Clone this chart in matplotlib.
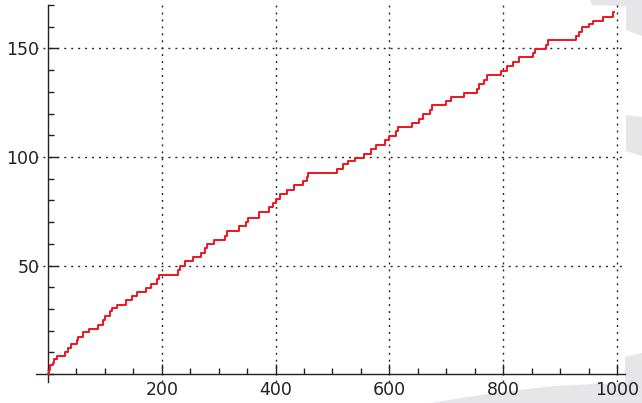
import numpy as np
import matplotlib
matplotlib.use("Agg")
import matplotlib.pyplot as plt
from matplotlib.patches import Polygon
from matplotlib.ticker import MultipleLocator, FixedLocator

# Step function: x where each new level starts, and the level reached there
jump_x = [0, 2, 4, 8, 11, 16, 29.6, 35.5, 40.2, 50.2, 53.1, 61.9, 72.4, 88.2, 96.4, 99.9,
          108.7, 113.4, 121, 136.8, 148.5, 156.2, 172, 180.8, 192.5, 195.4,
          228.7, 232.2, 240.4, 255.6, 268.6, 276.1, 279.1, 292, 311.3, 314.2,
          336.4, 348.1, 352.2, 371.5, 388.5, 396.1, 400.8, 407.9, 419.6, 432.5,
          447.7, 454.8, 457.6, 507.5, 519.1, 527.9, 539.6, 555.4, 567.2, 576.5,
          592.3, 599.9, 611.6, 615.7, 639.2, 652, 659.6, 671.4, 674.3, 699.5,
          707.7, 731.1, 754.4, 758, 766, 770.9, 795.5, 806.1, 817.7, 828.3,
          851.8, 855.8, 875.1, 879.2, 927.8, 933.6, 937.8, 951.2, 958.2, 975.8,
          993.3]
levels = [0, 2, 4, 5, 7, 8.2, 10, 12, 14, 15.6, 17.1, 19.2, 20.9, 22.8, 24.8, 26.9,
          28.9, 30.5, 32, 34, 35.8, 37.8, 39.7, 41.7, 43.8, 45.9,
          47.8, 50, 51.9, 54, 55.8, 58.1, 59.9, 61.9, 63.8, 66.1,
          68.1, 69.9, 71.9, 74.7, 77, 78.8, 80.8, 82.9, 84.8, 86.9,
          88.8, 90.8, 92.6, 94.6, 96.6, 98, 99.5, 101.5, 103.7, 105.7,
          107.7, 109.5, 111.8, 113.6, 115.6, 117.6, 119.8, 121.8, 123.8, 125.6,
          127.6, 129.5, 131.4, 133.6, 135.6, 137.6, 139.4, 141.7, 143.7, 145.9,
          147.9, 149.9, 151.7, 153.7, 155.5, 157.5, 159.7, 161.4, 162.8, 164.5,
          166.8]
x_end = 995
x_ticks = [200, 400, 600, 800, 1000]
y_ticks = [50, 100, 150]

W, H = 642, 403
fig = plt.figure(figsize=(W / 100, H / 100), dpi=100)

# light grey background watermark shapes (pixel coords, y from top)
gray = "#e6e6e8"
shapes = [
    [(590, 0), (642, 0), (642, 36), (626, 30), (626, 6), (592, 5)],
    [(626, 115), (642, 117), (642, 156), (626, 151)],
    [(430, 403), (487, 394), (553, 386), (617, 383), (625, 383), (625, 357), (642, 353), (642, 403)],
]
for pts in shapes:
    poly = Polygon([(px / W, 1 - py / H) for px, py in pts], closed=True,
                   transform=fig.transFigure, facecolor=gray, edgecolor="none", zorder=0)
    fig.patches.append(poly)

left_px, right_px, top_px, bottom_px = 36, 625, 5, 382
ax = fig.add_axes([left_px / W, 1 - bottom_px / H, (right_px - left_px) / W, (bottom_px - top_px) / H])
ax.set_zorder(2)
ax.patch.set_alpha(0)

xs = list(jump_x) + [x_end]
ys = list(levels) + [levels[-1]]
ax.step(xs, ys, where="post", color="#f0141e", lw=1.4, zorder=3)

ax.set_xlim(-21, 1014)
ax.set_ylim(-3.6, 170)

for s in ["top", "right"]:
    ax.spines[s].set_visible(False)
ax.spines["left"].set_position(("data", 0))
ax.spines["bottom"].set_position(("data", 0))
for s in ["left", "bottom"]:
    ax.spines[s].set_linewidth(1.0)
    ax.spines[s].set_color("#222222")

ax.xaxis.set_major_locator(FixedLocator(x_ticks))
ax.yaxis.set_major_locator(FixedLocator(y_ticks))
ax.xaxis.set_minor_locator(MultipleLocator(50))
ax.yaxis.set_minor_locator(MultipleLocator(10))
ax.tick_params(which="major", direction="in", length=7, width=1, color="#222222",
               labelsize=12.5, labelcolor="#222222")
ax.tick_params(which="minor", direction="in", length=4, width=1, color="#222222")
ax.tick_params(axis="x", which="major", pad=5)
ax.tick_params(axis="y", which="major", pad=6)

ax.grid(True, which="major", color="#222222", linestyle=(0, (1.4, 3.6)), lw=1.0, zorder=1)

fig.savefig("out.png", dpi=100)
